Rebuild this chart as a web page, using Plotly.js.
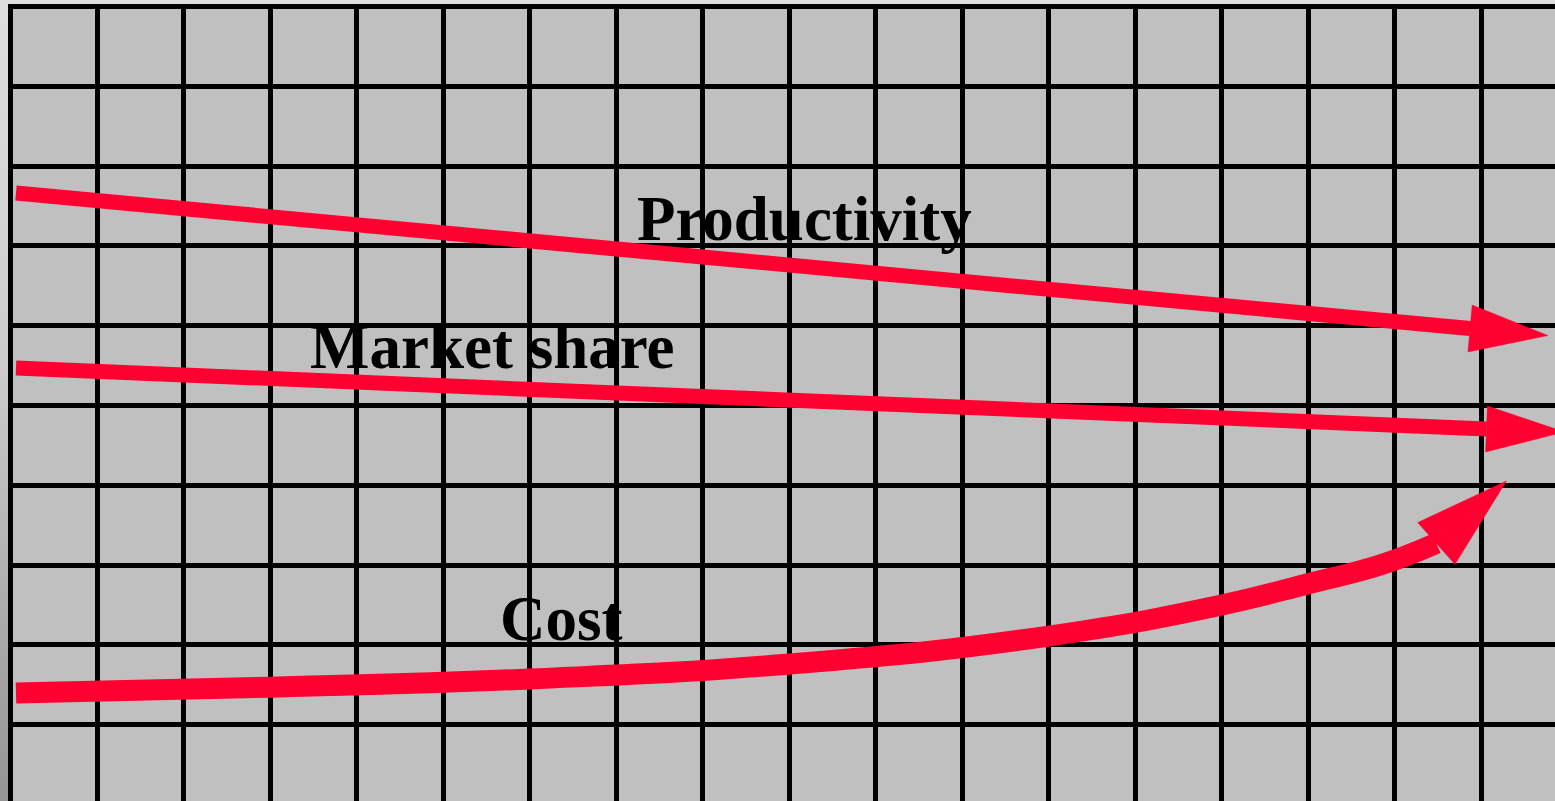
<!DOCTYPE html>
<html>
<head>
<meta charset="utf-8">
<script src="https://cdn.plot.ly/plotly-3.0.1.min.js"></script>
<style>
  html, body { margin: 0; padding: 0; width: 1555px; height: 801px; overflow: hidden; }
  body { background: linear-gradient(to bottom, #dedede 0%, #cdcdcd 45%, #a8a8a8 80%, #959595 100%); }
  #chart { width: 1555px; height: 801px; }
</style>
</head>
<body>
<div id="chart"></div>
<script>
// ---- data (grid units) ----
const productivityX = [0.06, 8.00, 16.87, 17.77];
const productivityY = [7.663, 6.860, 5.965, 5.877];

const marketShareX = [0.06, 8.00, 17.06, 17.96];
const marketShareY = [5.470, 5.113, 4.706, 4.668];

const costX = [0.06, 3.00, 6.00, 9.00, 12.00, 14.00, 15.01, 15.83, 16.48, 17.29];
const costY = [1.397, 1.470, 1.573, 1.761, 2.111, 2.500, 2.770, 3.000, 3.271, 4.054];

const labelTexts = ["Productivity", "Market share", "Cost"];

// ---- layout constants ----
const W = 1555, H = 801;
const margin = {l: 8, r: 0, t: 4, b: 0};
const xRange = [-0.03237, 17.852];
const yRange = [0.04386, 10.0313];
const plotW = W - margin.l - margin.r;
const plotH = H - margin.t - margin.b;
const sx = plotW / (xRange[1] - xRange[0]);
const sy = plotH / (yRange[1] - yRange[0]);
const red = '#ff0030';

function arrowSeries(xs, ys, lineW, halfW) {
  const n = xs.length;
  const tx = xs[n-1], ty = ys[n-1];
  const bx = xs[n-2], by = ys[n-2];
  const dX = (tx - bx) * sx, dY = (ty - by) * sy;
  const len = Math.hypot(dX, dY);
  const pX = -dY / len * halfW, pY = dX / len * halfW;
  const line = {
    x: xs.slice(0, n-1), y: ys.slice(0, n-1),
    mode: 'lines', type: 'scatter', hoverinfo: 'skip',
    line: {color: red, width: lineW, shape: 'spline', smoothing: 1.3},
    showlegend: false
  };
  const head = {
    x: [tx, bx + pX / sx, bx - pX / sx, tx],
    y: [ty, by + pY / sy, by - pY / sy, ty],
    mode: 'lines', type: 'scatter', fill: 'toself', fillcolor: red,
    line: {color: red, width: 0.5}, hoverinfo: 'skip', showlegend: false
  };
  return [line, head];
}

const traces = [].concat(
  arrowSeries(productivityX, productivityY, 15, 23.5),
  arrowSeries(marketShareX, marketShareY, 15, 23),
  arrowSeries(costX, costY, 21, 28)
);

const labelFont = {family: '"Liberation Serif", "Times New Roman", serif', size: 63, color: '#000'};
const annotations = [
  {x: 7.216, y: 7.337, text: '<b>' + labelTexts[0] + '</b>'},
  {x: 3.436, y: 5.733, text: '<b>' + labelTexts[1] + '</b>'},
  {x: 5.632, y: 2.325, text: '<b>' + labelTexts[2] + '</b>'}
].map(a => Object.assign(a, {xref: 'x', yref: 'y', showarrow: false, xanchor: 'left', yanchor: 'middle', font: labelFont}));

const axisCommon = {
  showgrid: true, gridcolor: '#000', gridwidth: 5,
  zeroline: true, zerolinecolor: '#000', zerolinewidth: 5,
  dtick: 1, tick0: 0, showticklabels: false, ticks: '', showline: false, fixedrange: true
};

const layout = {
  width: W, height: H,
  margin: Object.assign({pad: 0}, margin),
  paper_bgcolor: 'rgba(0,0,0,0)',
  plot_bgcolor: '#c0c0c0',
  xaxis: Object.assign({range: xRange}, axisCommon),
  yaxis: Object.assign({range: yRange}, axisCommon),
  annotations: annotations,
  showlegend: false
};

Plotly.newPlot('chart', traces, layout, {displayModeBar: false, staticPlot: true});
</script>
</body>
</html>
